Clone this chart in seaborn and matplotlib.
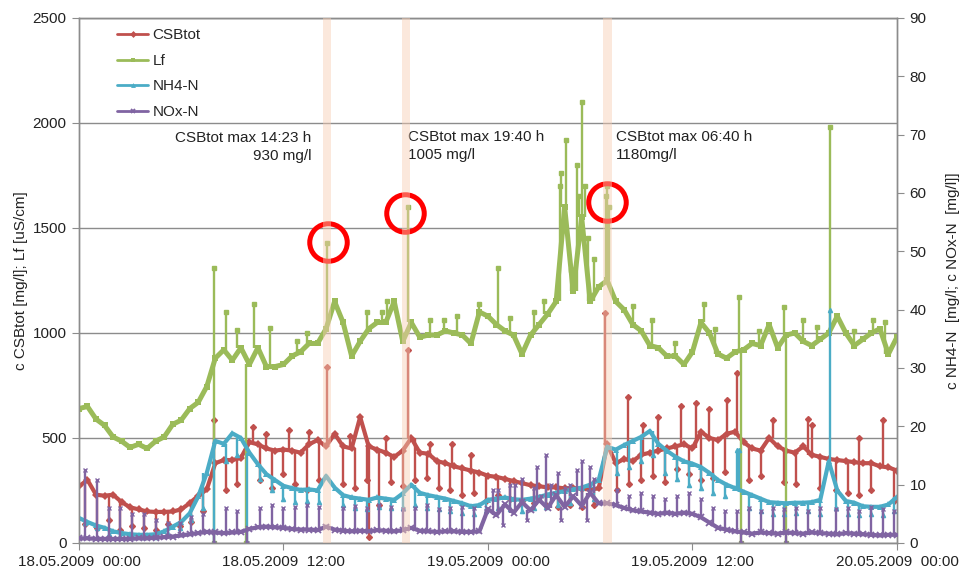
import numpy as np
import matplotlib
matplotlib.use("Agg")
import matplotlib.pyplot as plt
import seaborn as sns

# ---------- style ----------
sns.set_style("white")
plt.rcParams["font.family"] = ["Liberation Sans", "DejaVu Sans"]

# ---------- data (hours since 18.05.2009 00:00, 0.5 h steps) ----------
hours = np.arange(0, 48.5, 0.5)

lf = [640, 650, 590, 560, 505, 485, 455, 470, 450, 485,
      505, 565, 585, 640, 670, 745, 880, 920, 870, 930,
      850, 930, 840, 840, 850, 890, 910, 950, 950, 1020,
      1150, 1050, 890, 960, 1020, 1050, 1050, 1150, 960, 1050,
      980, 990, 990, 1010, 1000, 990, 950, 1100, 1080, 1040,
      1010, 990, 900, 990, 1040, 1090, 1150, 1600, 1200, 1550,
      1150, 1220, 1250, 1150, 1110, 1040, 1010, 940, 930, 890,
      890, 850, 910, 1050, 1000, 900, 880, 910, 920, 950,
      940, 1040, 930, 990, 1000, 960, 940, 970, 1000, 1080,
      1000, 940, 970, 1000, 1020, 900,
      980]

csb = [270, 300, 230, 225, 230, 195, 170, 160, 150, 148,
       148, 150, 160, 190, 225, 255, 380, 395, 395, 405,
       480, 470, 450, 440, 445, 440, 430, 470, 490, 460,
       520, 460, 450, 600, 460, 445, 430, 410, 440, 500,
       430, 425, 390, 380, 365, 355, 345, 335, 320, 315,
       305, 295, 285, 275, 270, 265, 265, 260, 262, 258,
       255, 260, 470, 380, 400, 390, 420, 430, 440, 450,
       460, 470, 450, 530, 500, 490, 520, 530, 480, 450,
       440, 500, 460, 440, 430, 460, 420, 410, 400, 395,
       390, 385, 380, 380, 365, 360,
       345]

nh4 = [4.3, 3.6, 3.0, 2.6, 2.0, 1.7, 1.5, 1.4, 1.4, 1.5,
       2.0, 2.8, 3.6, 5.1, 8.0, 12.0, 17.5, 17.0, 18.8, 18.0,
       15.5, 13.5, 11.8, 10.8, 9.8, 9.4, 9.1, 9.2, 9.0, 11.5,
       9.5, 8.2, 7.8, 7.6, 7.4, 7.8, 7.6, 7.4, 8.5, 10.0,
       8.6, 8.2, 7.9, 7.6, 7.2, 6.8, 6.3, 6.5, 7.4, 7.6,
       7.8, 7.5, 7.4, 7.6, 7.9, 8.3, 8.6, 8.9, 9.2, 9.5,
       10.0, 10.8, 16.5, 16.0, 16.8, 17.5, 18.2, 19.2, 17.0, 15.8,
       14.8, 14.0, 13.6, 13.0, 12.0, 10.8, 10.0, 9.4, 8.8, 8.2,
       7.6, 7.0, 6.9, 6.8, 6.9, 6.9, 7.0, 7.4, 14.0, 9.0,
       7.2, 6.9, 6.3, 6.2, 6.2, 6.6,
       7.9]

nox = [0.8, 0.8, 0.7, 0.7, 0.7, 0.7, 0.7, 0.8, 0.8, 0.9,
       1.0, 1.1, 1.3, 1.5, 1.7, 1.9, 1.8, 1.7, 1.8, 1.9,
       2.4, 2.7, 2.8, 2.7, 2.6, 2.4, 2.3, 2.3, 2.2, 2.8,
       2.3, 2.1, 2.0, 2.1, 2.0, 2.2, 2.1, 2.0, 2.2, 2.6,
       2.1, 2.0, 1.9, 2.0, 2.0, 1.9, 1.9, 2.0, 5.8, 4.8,
       6.6, 5.2, 7.0, 5.6, 7.4, 6.0, 8.2, 6.2, 8.0, 6.4,
       8.6, 6.8, 6.8, 6.5, 6.0, 5.6, 5.4, 5.2, 5.0, 5.2,
       5.0, 5.2, 5.0, 4.4, 3.5, 2.6, 2.3, 2.0, 1.8, 1.6,
       1.8, 1.7, 1.6, 1.8, 1.7, 1.6, 1.8, 1.7, 1.6, 1.5,
       1.7, 1.6, 1.5, 1.4, 1.3, 1.4,
       1.4]

# analyser rinse pulses (short spikes in every signal)
pulse_t = [0.35, 1.05, 1.75, 2.4, 3.1, 3.8, 4.5, 5.2, 5.9, 6.6,
           7.3, 8.6, 9.3, 10.6, 11.3, 12.0, 12.7, 13.4, 14.1, 15.5,
           16.2, 16.9, 17.6, 18.3, 19.0, 19.7, 20.4, 21.1, 21.8, 22.5,
           23.2, 23.9, 24.6, 25.3, 26.0, 26.7, 27.4, 28.1, 28.8, 29.5,
           30.2, 31.6, 32.3, 33.0, 33.7, 34.4, 35.1, 35.8, 36.5, 37.2,
           37.9, 38.6, 39.3, 40.0, 40.7, 41.4, 42.1, 42.8, 43.5, 44.4,
           45.1, 45.8, 46.5, 47.2, 47.8]
csb_pulse = [90, 70, 110, 60, 80, 70, 60, 90, 80, 100,
             150, 250, 280, 300, 260, 330, 280, 250, 300, 280,
             260, 300, 180, 290, 270, 300, 310, 260, 250, 230,
             240, 200, 230, 210, 200, 190, 180, 170, 180, 170,
             180, 250, 280, 300, 320, 290, 350, 330, 300, 310,
             340, 810, 300, 320, 586, 290, 280, 590, 260, 250,
             240, 230, 250, 586, 200]
nox_pulse = [12.5, 10.8, 6, 6, 5, 5, 4, 3.5, 3.4, 4.5,
             5, 6, 5.5, 6, 6.5, 6, 6.2, 6.5, 6.2, 6,
             6.4, 6, 6.5, 6.2, 5.8, 6, 6.5, 5.8, 6, 6.2,
             6, 5.5, 9, 10, 11, 9.5, 15, 12, 10, 14,
             11, 9, 8, 8.5, 8, 7.5, 8, 8.5, 7.5, 6,
             5.5, 5.5, 6, 5.5, 6, 5.8, 6, 5.5, 6, 5.8,
             6, 5.5, 6.2, 5.8, 5.5]
nh4_pulse = [3.5, 2.5, 1.5, 1.2, 1.0, 1.0, 1.0, 1.5, 2.5, 4.0,
             6, 14, 15, 11, 9, 7.5, 7, 7.2, 7, 6.5,
             6, 5.8, 6.2, 6, 6, 6.5, 6, 5.8, 5.5, 5.2,
             5, 5.5, 6, 5.8, 5.5, 6, 6.2, 6.5, 6.8, 7,
             7.5, 12, 13, 14, 15, 12, 11, 10, 9.5, 8.5,
             8, 15.9, 6, 5.5, 5, 5, 5.2, 5.5, 5, 6,
             5, 4.8, 5, 4.8, 5.5]

# single events (peaks, small bumps and sensor drop-outs)
lf_event_t = [7.9, 7.95, 8.6, 9.3, 9.8, 10.3, 11.2, 12.8, 13.4, 14.55,
              16.9, 17.8, 18.1, 19.3, 20.6, 21.4, 22.2, 23.5, 24.6, 25.3,
              26.7, 27.3, 28.2, 28.3, 28.6, 28.9, 29.2, 29.35, 29.5, 29.7,
              29.9, 30.2, 30.9, 31.0, 31.1, 32.5, 33.6, 35.0, 36.7, 37.3,
              38.75, 38.85, 39.9, 41.4, 41.5, 42.5, 43.3, 44.1, 45.5, 46.6,
              47.3]
lf_event_v = [1310, 0, 1100, 1014, 0, 1140, 1024, 960, 1000, 1430,
              1100, 1100, 1150, 1600, 1060, 1060, 1080, 1140, 1310, 1070,
              1100, 1150, 1700, 1760, 1920, 1300, 1800, 1650, 2100, 1700,
              1450, 1350, 1650, 1700, 1600, 1130, 1060, 950, 1140, 1020,
              1170, 0, 1010, 1124, 0, 1060, 1030, 1980, 1010, 1060,
              1050]
csb_event_t = [7.9, 10.2, 11.0, 12.3, 13.5, 14.55, 15.9, 17.0, 18.0, 19.3,
               20.6, 21.9, 23.0, 30.85, 32.2, 33.1, 34.0, 35.3, 36.2, 37.0,
               38.0, 43.0, 45.8]
csb_event_v = [585, 552, 520, 540, 530, 838, 510, 30, 500, 919,
               470, 470, 420, 1095, 695, 560, 600, 650, 667, 640,
               680, 560, 500]
nh4_event_t = [7.95, 9.85, 38.75, 44.1]
nh4_event_v = [0, 0, 15.9, 40]
nox_event_t = [7.95, 9.85, 24.3, 24.9, 25.6, 26.3, 26.9, 27.1, 27.7, 28.3,
               28.5, 29.2, 29.8, 30.0, 38.85, 41.5]
nox_event_v = [0, 0, 9, 3, 10, 4, 13, 8, 10, 4,
               9.5, 12.5, 4, 13, 0, 0]

# highlighted CSBtot maxima
band_start = [14.3, 18.95, 30.75]
band_end = [14.8, 19.45, 31.3]
circle_t = [14.6, 19.15, 31.0]
circle_v = [1433, 1571, 1624]
note_t = [13.63, 19.33, 31.49]
note_v = [1960, 1965, 1965]
note_text = ["CSBtot max 14:23 h\n930 mg/l",
             "CSBtot max 19:40 h\n1005 mg/l",
             "CSBtot max 06:40 h\n1180mg/l"]
note_ha = ["right", "left", "left"]

tick_hours = [0, 12, 24, 36, 48]
tick_labels = ["18.05.2009  00:00", "18.05.2009  12:00", "19.05.2009  00:00",
               "19.05.2009  12:00", "20.05.2009  00:00"]

colors = {"CSBtot": "#C0504D", "Lf": "#9BBB59", "NH4-N": "#4BACC6", "NOx-N": "#8064A2"}
grey = "#8C8C8C"
txt = "#222222"
fs = 11

fig = plt.figure(figsize=(9.63, 5.8), dpi=100)
ax = fig.add_axes([0.082, 0.0638, 0.8494, 0.9052])
ax2 = ax.twinx()


def spikes(axis, t, tips, base, color, marker):
    idx = np.rint(np.array(t) * 2).astype(int)
    lo = np.array(base)[idx]
    axis.vlines(t, lo, tips, color=color, lw=1.7, zorder=2)
    axis.plot(t, tips, ls="none", marker=marker, ms=3, color=color, zorder=2)


def series(axis, y, name, marker, lw, ms, mew, z):
    sns.lineplot(x=hours, y=y, ax=axis, color=colors[name], marker=marker, markersize=ms,
                 markeredgewidth=mew, markeredgecolor=colors[name], linewidth=lw,
                 linestyle="-", label=name, legend=False, zorder=z)
    return axis.get_lines()[-1]


# primary axis: CSBtot, Lf
h_csb = series(ax, csb, "CSBtot", "D", 3.0, 4, 0, 2)
spikes(ax, pulse_t, csb_pulse, csb, colors["CSBtot"], "D")
spikes(ax, csb_event_t, csb_event_v, csb, colors["CSBtot"], "D")

h_lf = series(ax, lf, "Lf", "s", 3.6, 5, 0, 3)
spikes(ax, lf_event_t, lf_event_v, lf, colors["Lf"], "s")

# secondary axis: NH4-N, NOx-N
h_nh4 = series(ax2, nh4, "NH4-N", "^", 3.0, 4.5, 0, 2)
spikes(ax2, pulse_t, nh4_pulse, nh4, colors["NH4-N"], "^")
spikes(ax2, nh4_event_t, nh4_event_v, nh4, colors["NH4-N"], "^")

h_nox = series(ax2, nox, "NOx-N", "x", 3.0, 4.5, 1.3, 3)
spikes(ax2, pulse_t, nox_pulse, nox, colors["NOx-N"], "x")
spikes(ax2, nox_event_t, nox_event_v, nox, colors["NOx-N"], "x")

# orange bands over all series
for a, b in zip(band_start, band_end):
    ax2.axvspan(a, b, color="#F7CDB3", alpha=0.45, lw=0, zorder=10)

# red circles + notes
ax.plot(circle_t, circle_v, ls="none", marker="o", ms=27, mfc="none",
        mec="#FF0000", mew=3.6, zorder=20)
for t, v, s, ha in zip(note_t, note_v, note_text, note_ha):
    ax.text(t, v, s, ha=ha, va="top", fontsize=fs, color=txt, linespacing=1.3, zorder=21)

# axes
ax.set_xlim(0, 48)
ax.set_ylim(0, 2500)
ax2.set_ylim(0, 90)
ax.set_xticks(tick_hours)
ax.set_xticklabels(tick_labels)
ax.set_yticks(range(0, 2501, 500))
ax2.set_yticks(range(0, 91, 10))
ax.yaxis.grid(True, color=grey, lw=1)
ax.xaxis.grid(False)
ax2.grid(False)
ax.set_axisbelow(True)

for a in (ax, ax2):
    for sp in a.spines.values():
        sp.set_color(grey)
        sp.set_linewidth(1)
ax.tick_params(axis="both", left=True, bottom=True, direction="out", length=5,
               color=grey, labelsize=fs, labelcolor=txt, pad=4)
ax2.tick_params(axis="y", right=True, direction="out", length=5,
                color=grey, labelsize=fs, labelcolor=txt, pad=4)

ax.set_ylabel("c CSBtot [mg/l]; Lf [uS/cm]", fontsize=fs, color=txt, labelpad=3)
ax2.set_ylabel("c NH4-N  [mg/l; c NOx-N  [mg/l]]", fontsize=fs, color=txt, labelpad=14)

# legend
ax2.legend([h_csb, h_lf, h_nh4, h_nox], ["CSBtot", "Lf", "NH4-N", "NOx-N"],
           loc="upper left", bbox_to_anchor=(0.047, 0.98), frameon=False,
           borderpad=0, borderaxespad=0, handlelength=2.0, handletextpad=0.3,
           labelspacing=0.75, fontsize=fs, numpoints=1)
for line in ax2.get_legend().get_lines():
    line.set_linewidth(2)
    line.set_markersize(3.5)

fig.savefig("out.png", dpi=100)
